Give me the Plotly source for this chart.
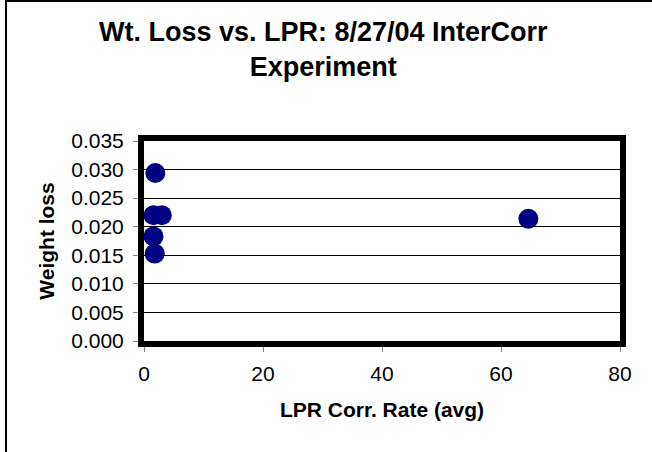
import plotly.graph_objects as go

lpr_rate = [1.9, 1.6, 3.0, 1.6, 1.8, 64.6]
weight_loss = [0.0294, 0.0220, 0.0220, 0.0183, 0.0153, 0.0214]

x_ticks = [0, 20, 40, 60, 80]
y_ticks = [0.000, 0.005, 0.010, 0.015, 0.020, 0.025, 0.030, 0.035]

title_text = "<b>Wt. Loss vs. LPR: 8/27/04 InterCorr<br>Experiment</b>"
x_title = "<b>LPR Corr. Rate (avg)</b>"
y_title = "<b>Weight loss</b>"

FONT = "Liberation Sans, Arial, sans-serif"

fig = go.Figure()
fig.add_trace(go.Scatter(
    x=lpr_rate, y=weight_loss, mode="markers",
    marker=dict(color="#000080", size=20, line=dict(width=0)),
    showlegend=False,
))

W, H = 652, 452
L, R, T, B = 144, 32, 141, 111
pw, ph = W - L - R, H - T - B

fig.update_layout(
    width=W, height=H,
    margin=dict(l=L, r=R, t=T, b=B, autoexpand=False),
    paper_bgcolor="white", plot_bgcolor="white",
    font=dict(family=FONT, color="black", size=21),
    xaxis=dict(
        range=[0, 80], tickvals=x_ticks, ticktext=[str(v) for v in x_ticks],
        showline=True, linewidth=6, linecolor="black", mirror=True,
        showgrid=False, zeroline=False,
        ticks="outside", ticklen=5, tickcolor="#808080", tickwidth=1,
        ticklabelstandoff=4,
        title=dict(text=x_title, font=dict(size=21), standoff=20),
        tickfont=dict(size=21),
    ),
    yaxis=dict(
        range=[0, 0.035], tickvals=y_ticks, ticktext=[f"{v:.3f}" for v in y_ticks],
        showline=True, linewidth=6, linecolor="black", mirror=True,
        showgrid=True, gridcolor="black", gridwidth=1, zeroline=False,
        ticks="outside", ticklen=5, tickcolor="#808080", tickwidth=1,
        ticklabelstandoff=5,
        title=dict(text=y_title, font=dict(size=21), standoff=13),
        tickfont=dict(size=21),
    ),
    annotations=[dict(
        text=title_text, xref="paper", yref="paper",
        x=(323 - L) / pw, y=(H - B - 50) / ph, xanchor="center", yanchor="middle",
        showarrow=False, font=dict(size=27, family=FONT, color="black"),
    )],
    shapes=[dict(
        type="rect", xref="paper", yref="paper",
        x0=(6 - L) / pw, x1=(W + 10 - L) / pw,
        y0=(H - B - (H + 10)) / ph, y1=(H - B - 1) / ph,
        line=dict(color="black", width=2), fillcolor="rgba(0,0,0,0)", layer="below",
    )],
)

fig.write_html("out.html", config={"displayModeBar": False},
               post_script="document.body.style.margin='0';")
